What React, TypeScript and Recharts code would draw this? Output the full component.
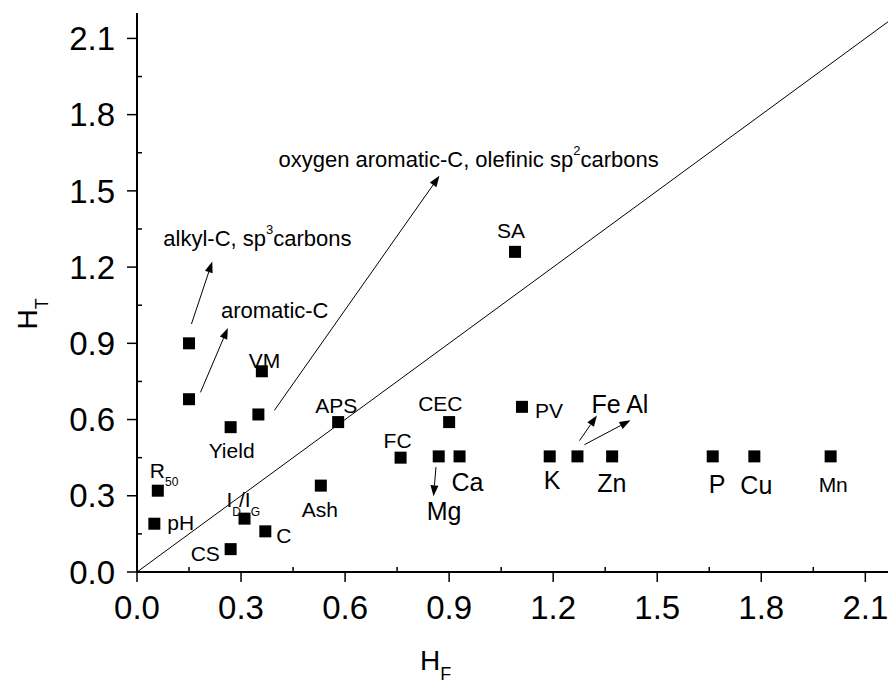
import { ScatterChart, Scatter, XAxis, YAxis, ReferenceLine, ReferenceDot } from "recharts";

const FONT = '"Liberation Sans", Arial, Helvetica, sans-serif';

// points: H_F (x) vs H_T (y)
const names = [
  "alkyl-C", "aromatic-C", "VM", "oxygen aromatic-C", "Yield", "APS", "FC", "CEC",
  "Mg", "Ca", "SA", "PV", "K", "Fe/Al", "Zn", "P", "Cu", "Mn",
  "R50", "pH", "ID/IG", "C", "CS", "Ash",
];
const hF = [
  0.15, 0.15, 0.36, 0.35, 0.27, 0.58, 0.76, 0.9,
  0.87, 0.93, 1.09, 1.11, 1.19, 1.27, 1.37, 1.66, 1.78, 2.0,
  0.06, 0.05, 0.31, 0.37, 0.27, 0.53,
];
const hT = [
  0.9, 0.68, 0.79, 0.62, 0.57, 0.59, 0.45, 0.59,
  0.455, 0.455, 1.26, 0.65, 0.455, 0.455, 0.455, 0.455, 0.455, 0.455,
  0.32, 0.19, 0.21, 0.16, 0.09, 0.34,
];

const axisTicks = [0, 0.3, 0.6, 0.9, 1.2, 1.5, 1.8, 2.1];
const minorTicks = [0.15, 0.45, 0.75, 1.05, 1.35, 1.65, 1.95];
const topTicks = [0, 0.15, 0.3, 0.45, 0.6, 0.75, 0.9, 1.05, 1.2, 1.35, 1.5, 1.65, 1.8, 1.95, 2.1];

// annotation texts (left / baseline anchored)
const noteTexts = ["alkyl-C, sp", "aromatic-C", "oxygen aromatic-C, olefinic sp"];
const noteSups = ["3", "", "2"];
const noteTails = ["carbons", "", "carbons"];
const noteX = [0.076, 0.242, 0.408];
const noteY = [1.283, 0.999, 1.595];

// arrows: from -> to
const arrowFrom = [[0.157, 0.976], [0.183, 0.707], [0.396, 0.636], [0.862, 0.413], [1.276, 0.517], [1.29, 0.501]];
const arrowTo = [[0.217, 1.222], [0.262, 0.96], [0.872, 1.559], [0.855, 0.298], [1.326, 0.616], [1.423, 0.597]];

// label placement next to each square: dx, dy (baseline), font size
const labelLayout: Record<string, [number, number, number]> = {
  VM: [-13, -3, 21],
  Yield: [-22, 31, 21],
  APS: [-23, -9, 21],
  FC: [-17, -10, 21],
  CEC: [-31, -11, 21],
  Mg: [-12, 64, 25],
  Ca: [-8, 35, 25],
  SA: [-18, -14, 21],
  PV: [13, 11, 21],
  K: [-6, 33, 25],
  "Fe/Al": [14, -43, 25],
  Zn: [-15, 36, 25],
  P: [-4, 37, 25],
  Cu: [-14, 38, 25],
  Mn: [-12, 36, 21],
  R50: [-8, -13, 21],
  pH: [13, 6, 21],
  "ID/IG": [-18, -12, 21],
  C: [11, 12, 21],
  CS: [-40, 12, 21],
  Ash: [-19, 31, 21],
};

const points = names.map((name, i) => ({ name, x: hF[i], y: hT[i] }));

const labelText = (name: string) => {
  if (name === "R50") {
    return [
      <tspan key="a">R</tspan>,
      <tspan key="b" fontSize={12} dy={8}>50</tspan>,
    ];
  }
  if (name === "ID/IG") {
    return [
      <tspan key="a">I</tspan>,
      <tspan key="b" fontSize={12} dy={9}>D</tspan>,
      <tspan key="c" dy={-9} dx={-2}>/</tspan>,
      <tspan key="d">I</tspan>,
      <tspan key="e" fontSize={12} dy={9}>G</tspan>,
    ];
  }
  if (name === "Fe/Al") return "Fe Al";
  return name;
};

const PointMark = (props: any) => {
  const { cx, cy, payload } = props;
  const lay = labelLayout[payload.name];
  return (
    <g>
      <rect x={cx - 6} y={cy - 6} width={12} height={12} fill="#000" />
      {lay && (
        <text x={cx + lay[0]} y={cy + lay[1]} fontSize={lay[2]} fontFamily={FONT} fill="#000">
          {labelText(payload.name)}
        </text>
      )}
    </g>
  );
};

const arrowShape = (p: any) => {
  const { x1, y1, x2, y2 } = p;
  const a = Math.atan2(y2 - y1, x2 - x1);
  const L = 11;
  const W = 4;
  const bx = x2 - L * Math.cos(a);
  const by = y2 - L * Math.sin(a);
  const px = -Math.sin(a) * W;
  const py = Math.cos(a) * W;
  return (
    <g>
      <line x1={x1} y1={y1} x2={bx} y2={by} stroke="#000" strokeWidth={1} />
      <polygon points={`${x2},${y2} ${bx + px},${by + py} ${bx - px},${by - py}`} fill="#000" />
    </g>
  );
};

const yMinorShape = (p: any) => {
  const x0 = Math.min(p.x1, p.x2);
  return <line x1={x0} y1={p.y1} x2={x0 + 5} y2={p.y1} stroke="#000" strokeWidth={1.5} />;
};

const xMinorShape = (p: any) => {
  const yb = Math.max(p.y1, p.y2);
  return <line x1={p.x1} y1={yb} x2={p.x1} y2={yb - 5} stroke="#000" strokeWidth={1.5} />;
};

const noteShape = (i: number) => (p: any) => (
  <text x={p.cx} y={p.cy} fontSize={22} fontFamily={FONT} fill="#000">
    {noteTexts[i]}
    {noteSups[i] && (
      <tspan fontSize={13} dy={-12}>{noteSups[i]}</tspan>
    )}
    {noteTails[i] && <tspan dy={12}>{noteTails[i]}</tspan>}
  </text>
);

const YTitle = (props: any) => {
  const vb = props.viewBox;
  const cx = vb.x + 37;
  const cy = vb.y + vb.height / 2 + 37;
  return (
    <text transform={`translate(${cx},${cy}) rotate(-90)`} fontSize={28} fontFamily={FONT} fill="#000">
      H<tspan fontSize={18} dy={11}>T</tspan>
    </text>
  );
};

const XTitle = (props: any) => {
  const vb = props.viewBox;
  return (
    <text x={vb.x + 283} y={vb.y + 98} fontSize={28} fontFamily={FONT} fill="#000">
      H<tspan fontSize={18} dy={10}>F</tspan>
    </text>
  );
};

const tickStyle = { fill: "#000", fontSize: 33, fontFamily: FONT };
const axisLineStyle = { stroke: "#000", strokeWidth: 2 };

export default function App() {
  return (
    <div
      style={{
        position: "fixed",
        left: 0,
        top: 0,
        width: 888,
        height: 688,
        overflow: "hidden",
        background: "#fff",
      }}
    >
      <ScatterChart width={910} height={688} margin={{ top: 13, right: 10, bottom: 0, left: 0 }}>
        <XAxis
          type="number"
          dataKey="x"
          domain={[0, 2.2]}
          ticks={axisTicks}
          tickFormatter={(v: number) => v.toFixed(1)}
          height={116}
          tickSize={10}
          tickMargin={14}
          tick={tickStyle}
          axisLine={axisLineStyle}
          tickLine={{ stroke: "#000", strokeWidth: 1.5 }}
          allowDataOverflow
          label={{ content: XTitle }}
        />
        <XAxis
          xAxisId="top"
          orientation="top"
          type="number"
          domain={[0, 2.2]}
          ticks={topTicks}
          tick={false}
          tickSize={4}
          mirror
          height={0}
          axisLine={axisLineStyle}
          tickLine={{ stroke: "#000", strokeWidth: 1.5 }}
          allowDataOverflow
        />
        <YAxis
          type="number"
          dataKey="y"
          domain={[0, 2.2]}
          ticks={axisTicks}
          tickFormatter={(v: number) => v.toFixed(1)}
          width={137}
          tickSize={10}
          tickMargin={12}
          tick={tickStyle}
          axisLine={axisLineStyle}
          tickLine={{ stroke: "#000", strokeWidth: 1.5 }}
          allowDataOverflow
          label={{ content: YTitle }}
        />
        <ReferenceLine
          segment={[{ x: 0, y: 0 }, { x: 2.2, y: 2.2 }]}
          stroke="#000"
          strokeWidth={1}
        />
        {minorTicks.map((t) => (
          <ReferenceLine key={`ym-${t}`} y={t} shape={yMinorShape} />
        ))}
        {minorTicks.map((t) => (
          <ReferenceLine key={`xm-${t}`} x={t} shape={xMinorShape} />
        ))}
        {arrowFrom.map((f, i) => (
          <ReferenceLine
            key={`arrow-${i}`}
            segment={[{ x: f[0], y: f[1] }, { x: arrowTo[i][0], y: arrowTo[i][1] }]}
            shape={arrowShape}
          />
        ))}
        {noteTexts.map((t, i) => (
          <ReferenceDot key={`note-${i}`} x={noteX[i]} y={noteY[i]} r={1} shape={noteShape(i)} />
        ))}
        <Scatter data={points} shape={PointMark} isAnimationActive={false} />
      </ScatterChart>
    </div>
  );
}
